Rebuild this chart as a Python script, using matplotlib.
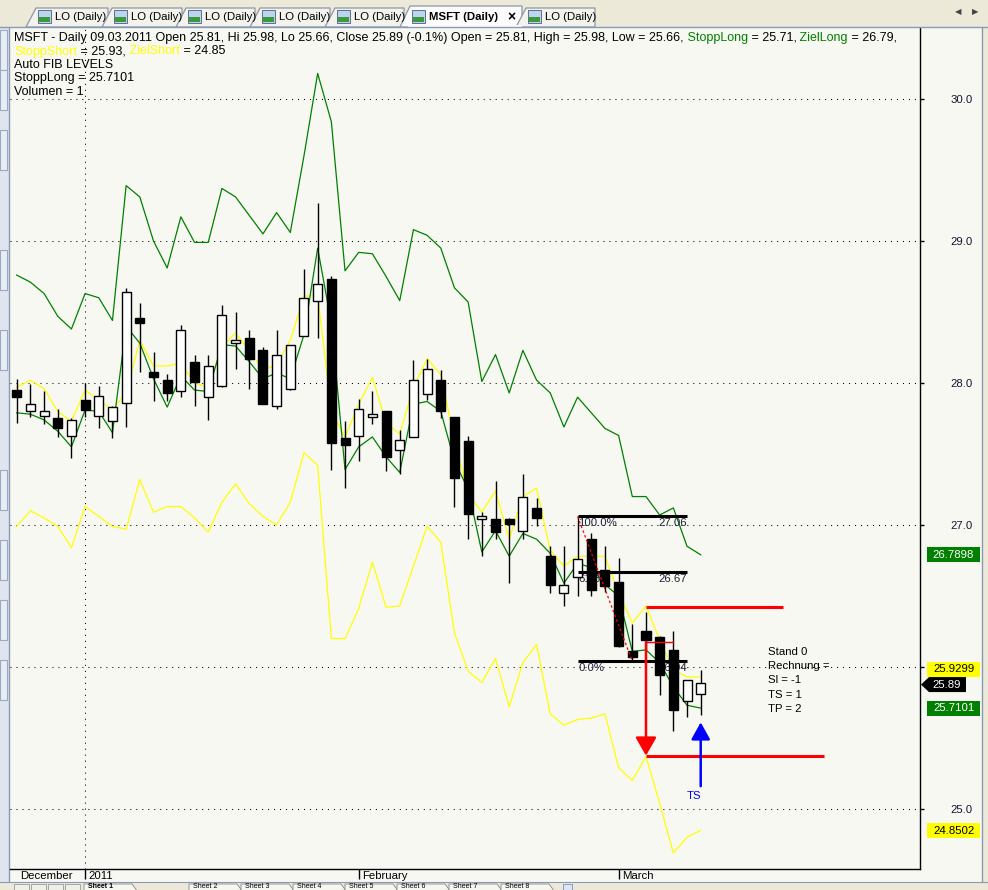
import numpy as np
import pandas as pd
import matplotlib
matplotlib.use("Agg")
import matplotlib.pyplot as plt
from matplotlib.patches import Rectangle, Polygon, FancyArrowPatch

plt.rcParams['font.family'] = ['Liberation Sans', 'DejaVu Sans']

# ---------------- data ----------------
TICKER = "MSFT"
holidays = ["2011-01-17", "2011-02-21"]
dates = [d for d in pd.bdate_range("2010-12-27", "2011-03-09")
         if d.strftime("%Y-%m-%d") not in holidays]

opens = [27.95, 27.80, 27.77, 27.75, 27.63, 27.88, 27.77, 27.73, 27.86, 28.46,
         28.08, 28.02, 27.94, 28.15, 27.90, 27.98, 28.28, 28.32, 28.23, 27.84,
         27.96, 28.33, 28.58, 28.73, 27.61, 27.63, 27.76, 27.80, 27.53, 27.62,
         27.92, 28.02, 27.76, 27.59, 27.04, 27.04, 27.04, 26.96, 27.12, 26.78,
         26.52, 26.63, 26.90, 26.68, 26.60, 26.11, 26.25, 26.21, 26.12, 25.76,
         25.81]
highs = [28.03, 27.99, 27.94, 27.82, 27.75, 28.00, 27.98, 27.84, 28.67, 28.56,
         28.22, 28.06, 28.41, 28.20, 28.20, 28.55, 28.50, 28.37, 28.25, 28.37,
         28.27, 28.80, 29.27, 28.75, 27.73, 27.89, 27.94, 27.80, 27.67, 28.16,
         28.17, 28.09, 27.76, 27.63, 27.09, 27.31, 27.05, 27.36, 27.19, 26.85,
         26.85, 27.06, 26.94, 26.85, 26.77, 26.30, 26.39, 26.22, 26.25, 25.91,
         25.98]
lows = [27.72, 27.76, 27.71, 27.62, 27.47, 27.76, 27.68, 27.61, 27.69, 28.08,
        27.87, 27.87, 27.90, 27.84, 27.74, 27.97, 28.10, 27.96, 27.85, 27.82,
        27.95, 28.33, 28.32, 27.39, 27.26, 27.45, 27.71, 27.38, 27.36, 27.62,
        27.88, 27.75, 27.13, 26.90, 26.78, 26.90, 26.59, 26.90, 26.99, 26.52,
        26.43, 26.50, 26.50, 26.53, 26.14, 26.04, 26.11, 25.80, 25.55, 25.65,
        25.66]
closes = [27.90, 27.85, 27.80, 27.68, 27.74, 27.81, 27.91, 27.83, 28.64, 28.42,
          28.04, 27.93, 28.37, 28.01, 28.12, 28.48, 28.30, 28.17, 27.85, 28.20,
          28.27, 28.60, 28.70, 27.58, 27.56, 27.82, 27.78, 27.48, 27.60, 28.02,
          28.10, 27.80, 27.33, 27.08, 27.06, 26.95, 27.01, 27.20, 27.05, 26.58,
          26.58, 26.76, 26.54, 26.57, 26.15, 26.07, 26.19, 25.94, 25.70, 25.91,
          25.89]

ziel_long = [28.76, 28.71, 28.63, 28.47, 28.38, 28.63, 28.60, 28.44, 29.39, 29.31,
             29.00, 28.81, 29.17, 28.99, 28.99, 29.37, 29.31, 29.18, 29.05, 29.20,
             29.06, 29.60, 30.18, 29.84, 28.79, 28.92, 28.91, 28.75, 28.58, 29.08,
             29.04, 28.95, 28.67, 28.57, 28.01, 28.20, 27.93, 28.23, 28.02, 27.93,
             27.69, 27.90, 27.79, 27.68, 27.63, 27.20, 27.20, 27.07, 27.12, 26.85,
             26.7898]
stopp_long = [27.79, 27.78, 27.74, 27.66, 27.55, 27.81, 27.80, 27.65, 28.40, 28.28,
              28.03, 27.83, 28.05, 27.95, 27.94, 28.27, 28.26, 28.15, 28.03, 28.07,
              28.03, 28.34, 28.95, 28.42, 27.39, 27.55, 27.62, 27.48, 27.37, 27.85,
              27.87, 27.80, 27.45, 27.25, 26.81, 26.96, 26.78, 26.94, 26.90, 26.80,
              26.59, 26.73, 26.70, 26.58, 26.50, 26.11, 26.12, 26.03, 25.86, 25.73,
              25.7101]
stopp_short = [27.97, 28.02, 27.96, 27.80, 27.73, 27.95, 27.88, 27.81, 27.93, 28.30,
               28.12, 28.12, 28.14, 28.00, 27.97, 28.26, 28.35, 28.23, 28.09, 28.13,
               28.30, 28.61, 28.62, 27.80, 27.62, 27.85, 28.04, 27.72, 27.64, 27.97,
               28.17, 28.06, 27.60, 27.22, 27.09, 27.24, 26.90, 27.20, 27.26, 26.82,
               26.71, 26.78, 26.78, 26.78, 26.52, 26.31, 26.43, 26.19, 25.98, 25.93,
               25.9299]
ziel_short = [26.99, 27.10, 27.05, 26.99, 26.84, 27.13, 27.06, 26.99, 26.97, 27.32,
              27.09, 27.13, 27.13, 27.05, 26.95, 27.16, 27.29, 27.15, 27.06, 27.00,
              27.16, 27.51, 27.42, 26.20, 26.20, 26.41, 26.74, 26.42, 26.43, 26.71,
              26.99, 26.88, 26.24, 25.97, 25.89, 26.06, 25.72, 26.03, 26.16, 25.67,
              25.59, 25.63, 25.64, 25.67, 25.29, 25.20, 25.37, 25.04, 24.69, 24.80,
              24.8502]

# Fibonacci block
fib_levels = [27.06, 26.67, 26.04]
fib_pct = ["100.0%", "61.8%", "0.0%"]
fib_start, fib_end = 41, 49
fib_swing = [(41, 27.06), (45, 26.04)]

# short trade marks
trade_idx = 46
trade_entry = 26.175
trade_stop = 26.425
trade_target = 25.375
entry_end, stop_end, target_end = 48, 56, 59
ts_idx, ts_tail, ts_tip = 50, 25.16, 25.61
info_lines = ["Stand 0", "Rechnung =", "Sl = -1", "TS = 1", "TP = 2"]
info_pos = (54.9, 26.14)

y_ticks = [25.0, 26.0, 27.0, 28.0, 29.0, 30.0]
hidden_tick = 26.0   # covered by the value boxes in the original

# ---------------- style ----------------
W, H = 988, 890
CHART_BG = '#f8f8f3'
CHROME = '#ece9d8'
GREEN = '#008000'
YELLOW = '#ffff00'
RED = '#ff0000'
BLUE = '#0000ff'
FS = 8.2
FSH = 9.0
DOT = (0, (1, 4.75))

fig = plt.figure(figsize=(W / 100, H / 100), dpi=100)
fig.patch.set_facecolor(CHROME)

# background chrome axes (pixel coords, y down)
bg = fig.add_axes([0, 0, 1, 1], zorder=0)
bg.set_xlim(0, W); bg.set_ylim(H, 0); bg.axis('off')
bg.add_patch(Rectangle((0, 27), 984, 855, facecolor=CHART_BG, edgecolor='none'))
bg.add_patch(Rectangle((0, 27), 9, 855, facecolor='#dfe4ee', edgecolor='none'))
for yy in [30, 70, 130, 250, 330, 470, 540, 600, 660]:
    bg.add_patch(Rectangle((0, yy), 7, 40, facecolor='#e9edf4', edgecolor='#9aaac4', lw=0.8))
bg.plot([9, 9], [27, 882], color='#8a9ab5', lw=1)
bg.plot([982, 982], [27, 882], color='#8a9ab5', lw=1)
bg.add_patch(Rectangle((983, 0), 5, H, facecolor=CHROME, edgecolor='none'))
bg.add_patch(Rectangle((0, 882), W, 8, facecolor=CHROME, edgecolor='none'))

# main chart axes
L, R, T, B = 10, 920, 28, 869
ax = fig.add_axes([L / W, (H - B) / H, (R - L) / W, (B - T) / H], zorder=1)
ax.set_facecolor(CHART_BG)
ax.patch.set_alpha(0.0)
ax.set_xlim(-0.49, 66.03)
ax.set_ylim(24.577, 30.5)

x = np.arange(len(dates))

# grid
ax.set_yticks(y_ticks)
ax.set_yticklabels(['' if v == hidden_tick else f"{v:.1f}" for v in y_ticks])
for v in y_ticks:
    ax.axhline(v, color='black', lw=0.75, ls=DOT, zorder=1)
year_idx = [i for i in range(1, len(dates)) if dates[i].year != dates[i - 1].year]
for i in year_idx:
    ax.axvline(i, color='black', lw=0.75, ls=DOT, zorder=1)

# indicator lines
ax.plot(x, ziel_long, color=GREEN, lw=0.9, zorder=2)
ax.plot(x, ziel_short, color=YELLOW, lw=0.9, zorder=2)
ax.plot(x, stopp_short, color=YELLOW, lw=0.9, zorder=2)
ax.plot(x, stopp_long, color=GREEN, lw=0.9, zorder=2)

# fib texts (under candles)
for lev, pct in zip(fib_levels, fib_pct):
    ax.annotate(pct, xy=(fib_start, lev), xytext=(1, -2), textcoords='offset pixels',
                ha='left', va='top', fontsize=FS, color='#20203a', zorder=2.5)
    ax.annotate(f"{lev:.2f}", xy=(fib_end, lev), xytext=(0, -2), textcoords='offset pixels',
                ha='right', va='top', fontsize=FS, color='#20203a', zorder=2.5)

# candles
bw = 0.66
for i in x:
    o, h, l, c = opens[i], highs[i], lows[i], closes[i]
    ax.plot([i, i], [l, h], color='black', lw=1.0, zorder=3, solid_capstyle='butt')
    bot, top = min(o, c), max(o, c)
    hgt = max(top - bot, 0.012)
    fc = 'black' if c < o else 'white'
    ax.add_patch(Rectangle((i - bw / 2, bot), bw, hgt, facecolor=fc,
                           edgecolor='black', lw=1.0, zorder=3.2))

# fib lines
for lev in fib_levels:
    ax.plot([fib_start, fib_end], [lev, lev], color='black', lw=2.2, zorder=4,
            solid_capstyle='butt')
ax.plot([p[0] for p in fib_swing], [p[1] for p in fib_swing], color=RED, lw=0.9,
        ls=(0, (2, 2)), zorder=5)

# trade marks
ax.plot([trade_idx, stop_end], [trade_stop, trade_stop], color=RED, lw=2.2, zorder=5,
        solid_capstyle='butt')
ax.plot([trade_idx, entry_end], [trade_entry, trade_entry], color=RED, lw=1.0, zorder=5)
ax.plot([trade_idx, target_end], [trade_target, trade_target], color=RED, lw=2.2, zorder=5,
        solid_capstyle='butt')
ax.add_patch(FancyArrowPatch((trade_idx, trade_entry), (trade_idx, trade_target),
                             arrowstyle='-|>,head_length=7,head_width=4',
                             color=RED, lw=1.8, shrinkA=0, shrinkB=0, zorder=5.5,
                             mutation_scale=1.6))
ax.add_patch(FancyArrowPatch((ts_idx, ts_tail), (ts_idx, ts_tip),
                             arrowstyle='-|>,head_length=6.5,head_width=3.6',
                             color=BLUE, lw=1.8, shrinkA=0, shrinkB=0, zorder=5.5,
                             mutation_scale=1.6))
ax.annotate("TS", xy=(ts_idx, ts_tail), xytext=(-7, -5), textcoords='offset pixels',
            ha='center', va='top', fontsize=FS, color=BLUE, zorder=6)
ax.text(info_pos[0], info_pos[1], "\n".join(info_lines), ha='left', va='top',
        fontsize=FS, color='black', linespacing=1.52, zorder=6)

# axes decoration
for s in ['top', 'left']:
    ax.spines[s].set_visible(False)
ax.spines['right'].set_color('black'); ax.spines['right'].set_linewidth(1.0)
ax.spines['bottom'].set_color('black'); ax.spines['bottom'].set_linewidth(1.0)
ax.yaxis.tick_right()
ax.tick_params(axis='y', direction='out', length=3, width=1, pad=19,
               labelsize=FS, colors='black')
for lab in ax.get_yticklabels():
    lab.set_color('#141432')

month_idx = [i for i in range(1, len(dates)) if dates[i].month != dates[i - 1].month]
ax.set_xticks(month_idx)
ax.set_xticklabels([''] * len(month_idx))
ax.tick_params(axis='x', direction='out', length=7, width=1, colors='black')
for i in month_idx:
    lab = str(dates[i].year) if dates[i].month == 1 else dates[i].strftime('%B')
    ax.annotate(lab, xy=(i, 0), xycoords=('data', 'axes fraction'), xytext=(3, -2),
                textcoords='offset pixels', ha='left', va='top', fontsize=FS, color='black',
                annotation_clip=False)
ax.annotate(dates[0].strftime('%B'), xy=(0, 0), xycoords='axes fraction', xytext=(10, -2),
            textcoords='offset pixels', ha='left', va='top', fontsize=FS, color='black')

# overlay axes for header, labels and chrome on top
ov = fig.add_axes([0, 0, 1, 1], zorder=5)
ov.set_xlim(0, W); ov.set_ylim(H, 0); ov.axis('off')
ov.patch.set_alpha(0)

# top tab strip
ov.add_patch(Rectangle((0, 0), W, 27, facecolor=CHROME, edgecolor='none'))
ov.plot([0, W], [27, 27], color='#8a9ab5', lw=1)
tabs = [(34, 108, "LO (Daily)"), (110, 182, "LO (Daily)"), (184, 255, "LO (Daily)"),
        (258, 330, "LO (Daily)"), (333, 404, "LO (Daily)"), (408, 522, "MSFT (Daily)"),
        (524, 595, "LO (Daily)")]
for k, (x0, x1, lab) in enumerate(tabs):
    active = lab.startswith("MSFT")
    top = 6 if active else 8
    fcol = '#fcfcfe' if active else '#f3f2ec'
    ov.add_patch(Polygon([(x0 - 8, 27), (x0 + 2, top), (x1, top), (x1, 27)],
                         closed=True, facecolor=fcol, edgecolor='#8c97a8', lw=0.9))
    ov.add_patch(Rectangle((x0 + 4, 10), 13, 13, facecolor='#bcd4ee', edgecolor='#5a7090', lw=0.7))
    ov.add_patch(Rectangle((x0 + 5, 17), 11, 5, facecolor='#3c9a3c', edgecolor='none'))
    ov.text(x0 + 21, 17, lab, fontsize=FS, va='center', ha='left', color='black',
            fontweight='bold' if active else 'normal')
    if active:
        ov.text(x1 - 11, 17, "×", fontsize=10, va='center', ha='center', color='black',
                fontweight='bold')
ov.add_patch(Rectangle((408, 25), 114, 3, facecolor='#fcfcfe', edgecolor='none'))
ov.text(958, 13, "◀", fontsize=6, color='#444444', ha='center', va='center')
ov.text(975, 13, "▶", fontsize=6, color='#444444', ha='center', va='center')

# bottom sheet tab strip
ov.add_patch(Rectangle((0, 882), W, 8, facecolor=CHROME, edgecolor='none'))
ov.plot([0, W], [882, 882], color='#8a9ab5', lw=0.8)
for k in range(4):
    ov.add_patch(Rectangle((14 + 17 * k, 884), 15, 8, facecolor='#f0efe8', edgecolor='#999999', lw=0.6))
for k in range(8):
    x0 = 88 if k == 0 else 140 + 52 * (k - 1) + 53
    ov.add_patch(Polygon([(x0 - 4, 884), (x0 + 44, 884), (x0 + 50, 892), (x0 - 4, 892)],
                         closed=True, facecolor='#f7f6f0', edgecolor='#888888', lw=0.6))
    ov.text(x0, 886.5, f"Sheet {k + 1}", fontsize=5, va='center', ha='left', color='black',
            fontweight='bold' if k == 0 else 'normal')
ov.add_patch(Rectangle((563, 884), 9, 8, facecolor='#dde6f3', edgecolor='#7a8fb3', lw=0.6))


# header text (chained coloured parts)
def chain(parts, x0, y0):
    t = ov.text(x0, y0, parts[0][0], color=parts[0][1], fontsize=FSH, va='bottom', ha='left')
    for s, c in parts[1:]:
        t = ov.annotate(s, xy=(1, 0), xycoords=t, va='bottom', ha='left', color=c, fontsize=FSH)


pct = (closes[-1] - closes[-2]) / closes[-2] * 100
line1 = [(f"{TICKER} - Daily {dates[-1]:%d.%m.%Y} Open {opens[-1]:.2f}, Hi {highs[-1]:.2f}, "
          f"Lo {lows[-1]:.2f}, Close {closes[-1]:.2f} ({pct:.1f}%) Open = {opens[-1]:.2f}, "
          f"High = {highs[-1]:.2f}, Low = {lows[-1]:.2f},", 'black'),
         (" StoppLong", GREEN), (f" = {stopp_long[-1]:.2f},", 'black'),
         (" ZielLong", GREEN), (f" = {ziel_long[-1]:.2f},", 'black')]
line2 = [("StoppShort", YELLOW), (f" = {stopp_short[-1]:.2f},", 'black'),
         (" ZielShort", YELLOW), (f" = {ziel_short[-1]:.2f}", 'black')]
chain(line1, 14, 44)
chain(line2, 14, 57.5)
ov.text(14, 71, "Auto FIB LEVELS", fontsize=FSH, va='bottom', ha='left', color='black')
ov.text(14, 84.5, f"StoppLong = {stopp_long[-1]:.4f}", fontsize=FSH, va='bottom', ha='left', color='black')
ov.text(14, 98, "Volumen = 1", fontsize=FSH, va='bottom', ha='left', color='black')


# right value boxes
def ypix(p):
    return H - ax.transData.transform((0, p))[1]


boxes = [(ziel_long[-1], GREEN, 'white', 0), (stopp_short[-1], YELLOW, 'black', -7.5),
         (stopp_long[-1], GREEN, 'white', 0), (ziel_short[-1], YELLOW, 'black', 0.5)]
for val, fc, tc, dy in boxes:
    yc = ypix(val) + dy
    ov.add_patch(Rectangle((927, yc - 7.5), 53, 15, facecolor=fc, edgecolor='none'))
    ov.text(953.5, yc, f"{val:.4f}", fontsize=FS, color=tc, ha='center', va='center')
yc = ypix(closes[-1]) + 2
ov.add_patch(Polygon([(921, yc), (929, yc - 7.5), (966, yc - 7.5), (966, yc + 7.5), (929, yc + 7.5)],
                     closed=True, facecolor='black', edgecolor='none'))
ov.text(947, yc, f"{closes[-1]:.2f}", fontsize=FS, color='white', ha='center', va='center')

fig.savefig("out.png", dpi=100, facecolor=fig.get_facecolor())
